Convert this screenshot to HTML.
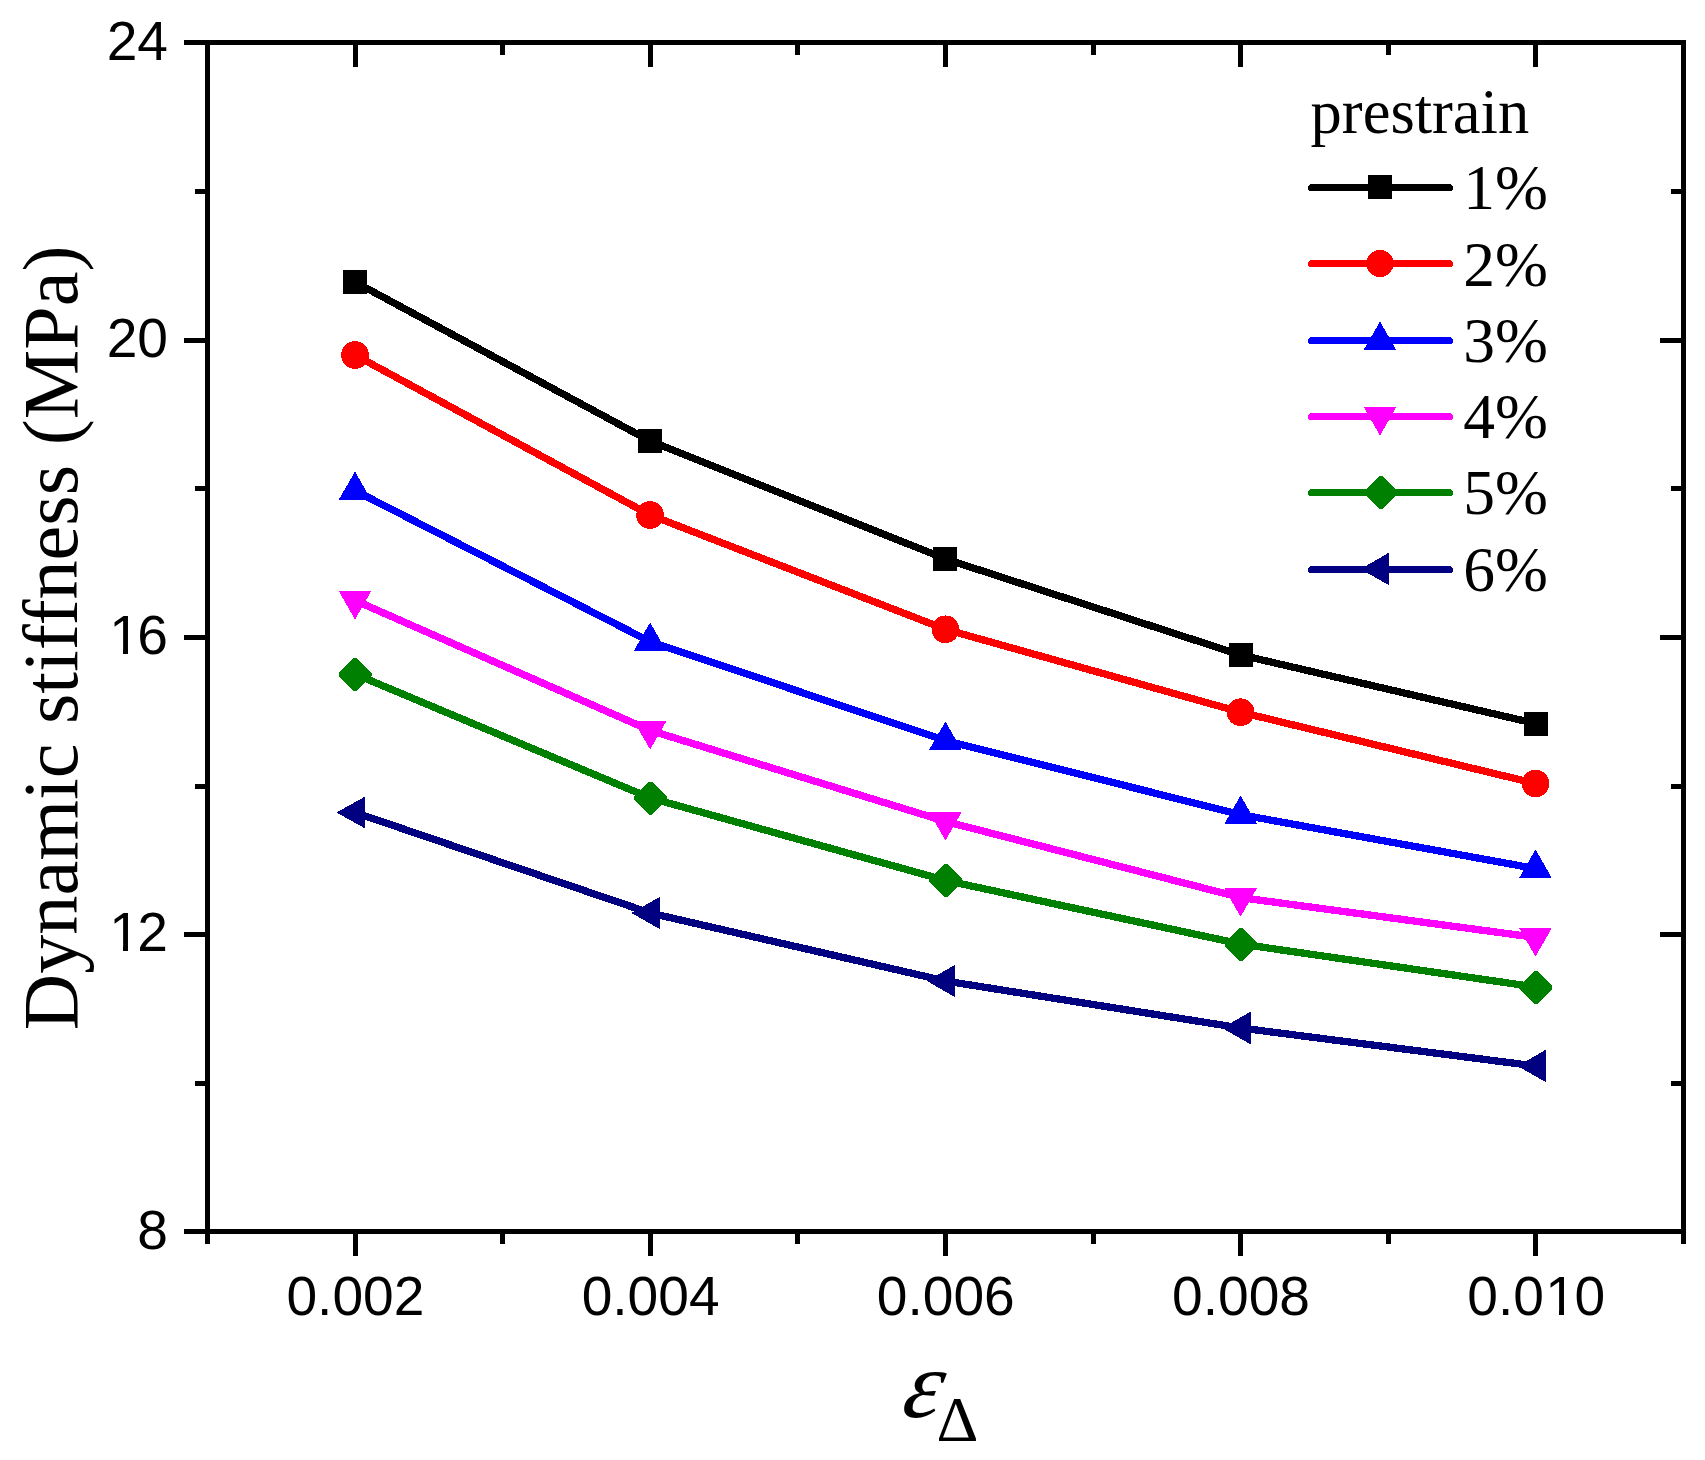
<!DOCTYPE html>
<html lang="en">
<head>
<meta charset="utf-8">
<title>Dynamic stiffness vs strain amplitude</title>
<style>
html, body { margin: 0; padding: 0; background: #ffffff; }
body { width: 1705px; height: 1460px; overflow: hidden; }
svg { display: block; }
text { white-space: pre; }
</style>
</head>
<body>
<svg width="1705" height="1460" viewBox="0 0 1705 1460">
<rect x="0" y="0" width="1705" height="1460" fill="#ffffff"/>
<g shape-rendering="crispEdges">
<rect x="205" y="40" width="5" height="1194" fill="#000"/>
<rect x="1681" y="40" width="5" height="1194" fill="#000"/>
<rect x="205" y="40" width="1481" height="5" fill="#000"/>
<rect x="205" y="1229" width="1481" height="5" fill="#000"/>
<rect x="205" y="1234" width="5" height="10" fill="#000"/>
<rect x="205" y="45" width="5" height="10" fill="#000"/>
<rect x="353" y="1234" width="5" height="22" fill="#000"/>
<rect x="353" y="45" width="5" height="22" fill="#000"/>
<rect x="500" y="1234" width="5" height="10" fill="#000"/>
<rect x="500" y="45" width="5" height="10" fill="#000"/>
<rect x="648" y="1234" width="5" height="22" fill="#000"/>
<rect x="648" y="45" width="5" height="22" fill="#000"/>
<rect x="795" y="1234" width="5" height="10" fill="#000"/>
<rect x="795" y="45" width="5" height="10" fill="#000"/>
<rect x="943" y="1234" width="5" height="22" fill="#000"/>
<rect x="943" y="45" width="5" height="22" fill="#000"/>
<rect x="1091" y="1234" width="5" height="10" fill="#000"/>
<rect x="1091" y="45" width="5" height="10" fill="#000"/>
<rect x="1238" y="1234" width="5" height="22" fill="#000"/>
<rect x="1238" y="45" width="5" height="22" fill="#000"/>
<rect x="1386" y="1234" width="5" height="10" fill="#000"/>
<rect x="1386" y="45" width="5" height="10" fill="#000"/>
<rect x="1533" y="1234" width="5" height="22" fill="#000"/>
<rect x="1533" y="45" width="5" height="22" fill="#000"/>
<rect x="1681" y="1234" width="5" height="10" fill="#000"/>
<rect x="1681" y="45" width="5" height="10" fill="#000"/>
<rect x="184" y="1229" width="21" height="5" fill="#000"/>
<rect x="1660" y="1229" width="21" height="5" fill="#000"/>
<rect x="195" y="1081" width="10" height="5" fill="#000"/>
<rect x="1671" y="1081" width="10" height="5" fill="#000"/>
<rect x="184" y="932" width="21" height="5" fill="#000"/>
<rect x="1660" y="932" width="21" height="5" fill="#000"/>
<rect x="195" y="784" width="10" height="5" fill="#000"/>
<rect x="1671" y="784" width="10" height="5" fill="#000"/>
<rect x="184" y="635" width="21" height="5" fill="#000"/>
<rect x="1660" y="635" width="21" height="5" fill="#000"/>
<rect x="195" y="486" width="10" height="5" fill="#000"/>
<rect x="1671" y="486" width="10" height="5" fill="#000"/>
<rect x="184" y="338" width="21" height="5" fill="#000"/>
<rect x="1660" y="338" width="21" height="5" fill="#000"/>
<rect x="195" y="189" width="10" height="5" fill="#000"/>
<rect x="1671" y="189" width="10" height="5" fill="#000"/>
<rect x="184" y="40" width="21" height="5" fill="#000"/>
<rect x="1660" y="40" width="21" height="5" fill="#000"/>
</g>
<g font-family="'Liberation Sans', sans-serif" font-size="55.9" fill="#000">
<text transform="translate(355.4 1314.5) scale(0.986 1)" text-anchor="middle">0.002</text>
<text transform="translate(650.6 1314.5) scale(0.986 1)" text-anchor="middle">0.004</text>
<text transform="translate(945.8 1314.5) scale(0.986 1)" text-anchor="middle">0.006</text>
<text transform="translate(1241.0 1314.5) scale(0.986 1)" text-anchor="middle">0.008</text>
<text transform="translate(1536.2 1314.5) scale(0.986 1)" text-anchor="middle">0.0<tspan dx="1.4">1</tspan><tspan dx="-1.4">0</tspan></text>
<text transform="translate(168.0 60) scale(0.986 1)" text-anchor="end">24</text>
<text transform="translate(168.0 357) scale(0.986 1)" text-anchor="end">20</text>
<text transform="translate(168.0 654) scale(0.986 1)" x="-59.47 -31.09">16</text>
<text transform="translate(168.0 951) scale(0.986 1)" x="-59.47 -31.09">12</text>
<text transform="translate(168.0 1249) scale(0.986 1)" text-anchor="end">8</text>
</g>
<rect x="112.5" y="648.6" width="10.5" height="6" fill="#ffffff"/>
<rect x="128" y="648.6" width="10.6" height="6" fill="#ffffff"/>
<rect x="112.5" y="945.6" width="10.5" height="6" fill="#ffffff"/>
<rect x="128" y="945.6" width="10.6" height="6" fill="#ffffff"/>
<rect x="1548.4" y="1309.6" width="10.6" height="6" fill="#ffffff"/>
<rect x="1564" y="1309.6" width="10.6" height="6" fill="#ffffff"/>
<text transform="translate(76.7 1030.2) rotate(-90)" font-family="'Liberation Serif', serif" font-size="78.2" fill="#000">Dynamic stiffness (MPa)</text>
<text transform="translate(900 1417) skewX(-12)" font-family="'Liberation Serif', serif" font-style="italic" font-size="95.7" fill="#000">ε</text>
<text transform="translate(936.5 1441) scale(1.035 1)" font-family="'Liberation Serif', serif" font-size="63" fill="#000">Δ</text>
<g shape-rendering="crispEdges">
<polyline points="355.00,282.00 650.10,441.00 945.40,558.90 1240.60,655.00 1535.50,723.50" fill="none" stroke="#000000" stroke-width="7.3" stroke-linejoin="round"/>
<rect x="343.00" y="270.00" width="24.0" height="24.0" fill="#000000"/>
<rect x="638.10" y="429.00" width="24.0" height="24.0" fill="#000000"/>
<rect x="933.40" y="546.90" width="24.0" height="24.0" fill="#000000"/>
<rect x="1228.60" y="643.00" width="24.0" height="24.0" fill="#000000"/>
<rect x="1524.00" y="711.50" width="24.0" height="24.0" fill="#000000"/>
<polyline points="355.00,355.00 650.10,515.00 945.40,629.30 1240.60,712.20 1535.50,783.50" fill="none" stroke="#ff0000" stroke-width="7.3" stroke-linejoin="round"/>
<circle cx="355.00" cy="355.00" r="13.85" fill="#ff0000"/>
<circle cx="650.10" cy="515.00" r="13.85" fill="#ff0000"/>
<circle cx="945.40" cy="629.30" r="13.85" fill="#ff0000"/>
<circle cx="1240.60" cy="712.20" r="13.85" fill="#ff0000"/>
<circle cx="1535.50" cy="783.50" r="13.85" fill="#ff0000"/>
<polyline points="355.00,490.60 650.10,641.60 945.40,740.60 1240.60,814.60 1535.50,868.60" fill="none" stroke="#0000ff" stroke-width="7.3" stroke-linejoin="round"/>
<polygon points="355.00,472.50 339.50,499.50 370.50,499.50" fill="#0000ff" stroke="#0000ff" stroke-width="1" stroke-linejoin="round"/>
<polygon points="650.10,623.50 634.60,650.50 665.60,650.50" fill="#0000ff" stroke="#0000ff" stroke-width="1" stroke-linejoin="round"/>
<polygon points="945.40,722.50 929.90,749.50 960.90,749.50" fill="#0000ff" stroke="#0000ff" stroke-width="1" stroke-linejoin="round"/>
<polygon points="1240.60,796.50 1225.10,823.50 1256.10,823.50" fill="#0000ff" stroke="#0000ff" stroke-width="1" stroke-linejoin="round"/>
<polygon points="1535.50,850.50 1520.00,877.50 1551.00,877.50" fill="#0000ff" stroke="#0000ff" stroke-width="1" stroke-linejoin="round"/>
<polyline points="355.00,600.40 650.10,730.40 945.40,821.40 1240.60,897.60 1535.50,937.40" fill="none" stroke="#ff00ff" stroke-width="7.3" stroke-linejoin="round"/>
<polygon points="355.00,618.50 339.50,591.50 370.50,591.50" fill="#ff00ff" stroke="#ff00ff" stroke-width="1" stroke-linejoin="round"/>
<polygon points="650.10,748.50 634.60,721.50 665.60,721.50" fill="#ff00ff" stroke="#ff00ff" stroke-width="1" stroke-linejoin="round"/>
<polygon points="945.40,839.50 929.90,812.50 960.90,812.50" fill="#ff00ff" stroke="#ff00ff" stroke-width="1" stroke-linejoin="round"/>
<polygon points="1240.60,915.70 1225.10,888.70 1256.10,888.70" fill="#ff00ff" stroke="#ff00ff" stroke-width="1" stroke-linejoin="round"/>
<polygon points="1535.50,955.50 1520.00,928.50 1551.00,928.50" fill="#ff00ff" stroke="#ff00ff" stroke-width="1" stroke-linejoin="round"/>
<polyline points="355.00,674.10 650.10,797.90 945.40,880.40 1240.60,944.00 1535.50,987.00" fill="none" stroke="#008000" stroke-width="7.3" stroke-linejoin="round"/>
<polygon points="353.90,658.00 356.90,658.00 371.90,673.00 371.90,676.00 356.90,691.00 353.90,691.00 338.90,676.00 338.90,673.00" fill="#008000"/>
<polygon points="649.00,781.80 652.00,781.80 667.00,796.80 667.00,799.80 652.00,814.80 649.00,814.80 634.00,799.80 634.00,796.80" fill="#008000"/>
<polygon points="944.30,864.30 947.30,864.30 962.30,879.30 962.30,882.30 947.30,897.30 944.30,897.30 929.30,882.30 929.30,879.30" fill="#008000"/>
<polygon points="1239.50,927.90 1242.50,927.90 1257.50,942.90 1257.50,945.90 1242.50,960.90 1239.50,960.90 1224.50,945.90 1224.50,942.90" fill="#008000"/>
<polygon points="1534.40,970.90 1537.40,970.90 1552.40,985.90 1552.40,988.90 1537.40,1003.90 1534.40,1003.90 1519.40,988.90 1519.40,985.90" fill="#008000"/>
<polyline points="355.00,812.50 650.10,913.00 945.40,981.00 1240.60,1028.00 1535.50,1066.00" fill="none" stroke="#000080" stroke-width="7.3" stroke-linejoin="round"/>
<polygon points="337.50,812.50 364.50,797.50 364.50,827.50" fill="#000080" stroke="#000080" stroke-width="1" stroke-linejoin="round"/>
<polygon points="632.60,913.00 659.60,897.50 659.60,928.50" fill="#000080" stroke="#000080" stroke-width="1" stroke-linejoin="round"/>
<polygon points="927.90,981.00 954.90,965.50 954.90,996.50" fill="#000080" stroke="#000080" stroke-width="1" stroke-linejoin="round"/>
<polygon points="1223.10,1028.00 1250.10,1012.50 1250.10,1043.50" fill="#000080" stroke="#000080" stroke-width="1" stroke-linejoin="round"/>
<polygon points="1518.50,1066.00 1545.50,1050.50 1545.50,1081.50" fill="#000080" stroke="#000080" stroke-width="1" stroke-linejoin="round"/>
</g>
<text transform="translate(1310.6 133.3) scale(0.972 1)" font-family="'Liberation Serif', serif" font-size="64.3" fill="#000">prestrain</text>
<g shape-rendering="crispEdges">
<rect x="1308" y="184" width="145" height="7" rx="3.5" ry="3.5" fill="#000000"/>
<rect x="1367.60" y="175.00" width="24.0" height="24.0" fill="#000000"/>
</g>
<text transform="translate(1463.3 209.3) scale(0.988 1)" font-family="'Liberation Serif', serif" font-size="64.3" fill="#000">1%</text>
<g shape-rendering="crispEdges">
<rect x="1308" y="260" width="145" height="7" rx="3.5" ry="3.5" fill="#ff0000"/>
<circle cx="1380.00" cy="263.50" r="13.5" fill="#ff0000"/>
</g>
<text transform="translate(1463.3 285.5) scale(0.988 1)" font-family="'Liberation Serif', serif" font-size="64.3" fill="#000">2%</text>
<g shape-rendering="crispEdges">
<rect x="1308" y="337" width="145" height="7" rx="3.5" ry="3.5" fill="#0000ff"/>
<polygon points="1380.00,322.50 1364.50,349.50 1395.50,349.50" fill="#0000ff" stroke="#0000ff" stroke-width="1" stroke-linejoin="round"/>
</g>
<text transform="translate(1463.3 361.9) scale(0.988 1)" font-family="'Liberation Serif', serif" font-size="64.3" fill="#000">3%</text>
<g shape-rendering="crispEdges">
<rect x="1308" y="413" width="145" height="7" rx="3.5" ry="3.5" fill="#ff00ff"/>
<polygon points="1380.00,434.50 1364.50,407.50 1395.50,407.50" fill="#ff00ff" stroke="#ff00ff" stroke-width="1" stroke-linejoin="round"/>
</g>
<text transform="translate(1463.3 438.0) scale(0.988 1)" font-family="'Liberation Serif', serif" font-size="64.3" fill="#000">4%</text>
<g shape-rendering="crispEdges">
<rect x="1308" y="489" width="145" height="7" rx="3.5" ry="3.5" fill="#008000"/>
<polygon points="1379.00,476.00 1382.00,476.00 1397.00,491.00 1397.00,494.00 1382.00,509.00 1379.00,509.00 1364.00,494.00 1364.00,491.00" fill="#008000"/>
</g>
<text transform="translate(1463.3 514.4) scale(0.988 1)" font-family="'Liberation Serif', serif" font-size="64.3" fill="#000">5%</text>
<g shape-rendering="crispEdges">
<rect x="1308" y="566" width="145" height="7" rx="3.5" ry="3.5" fill="#000080"/>
<polygon points="1361.50,569.00 1388.50,553.50 1388.50,584.50" fill="#000080" stroke="#000080" stroke-width="1" stroke-linejoin="round"/>
</g>
<text transform="translate(1463.3 590.8) scale(0.988 1)" font-family="'Liberation Serif', serif" font-size="64.3" fill="#000">6%</text>
</svg>
</body>
</html>
